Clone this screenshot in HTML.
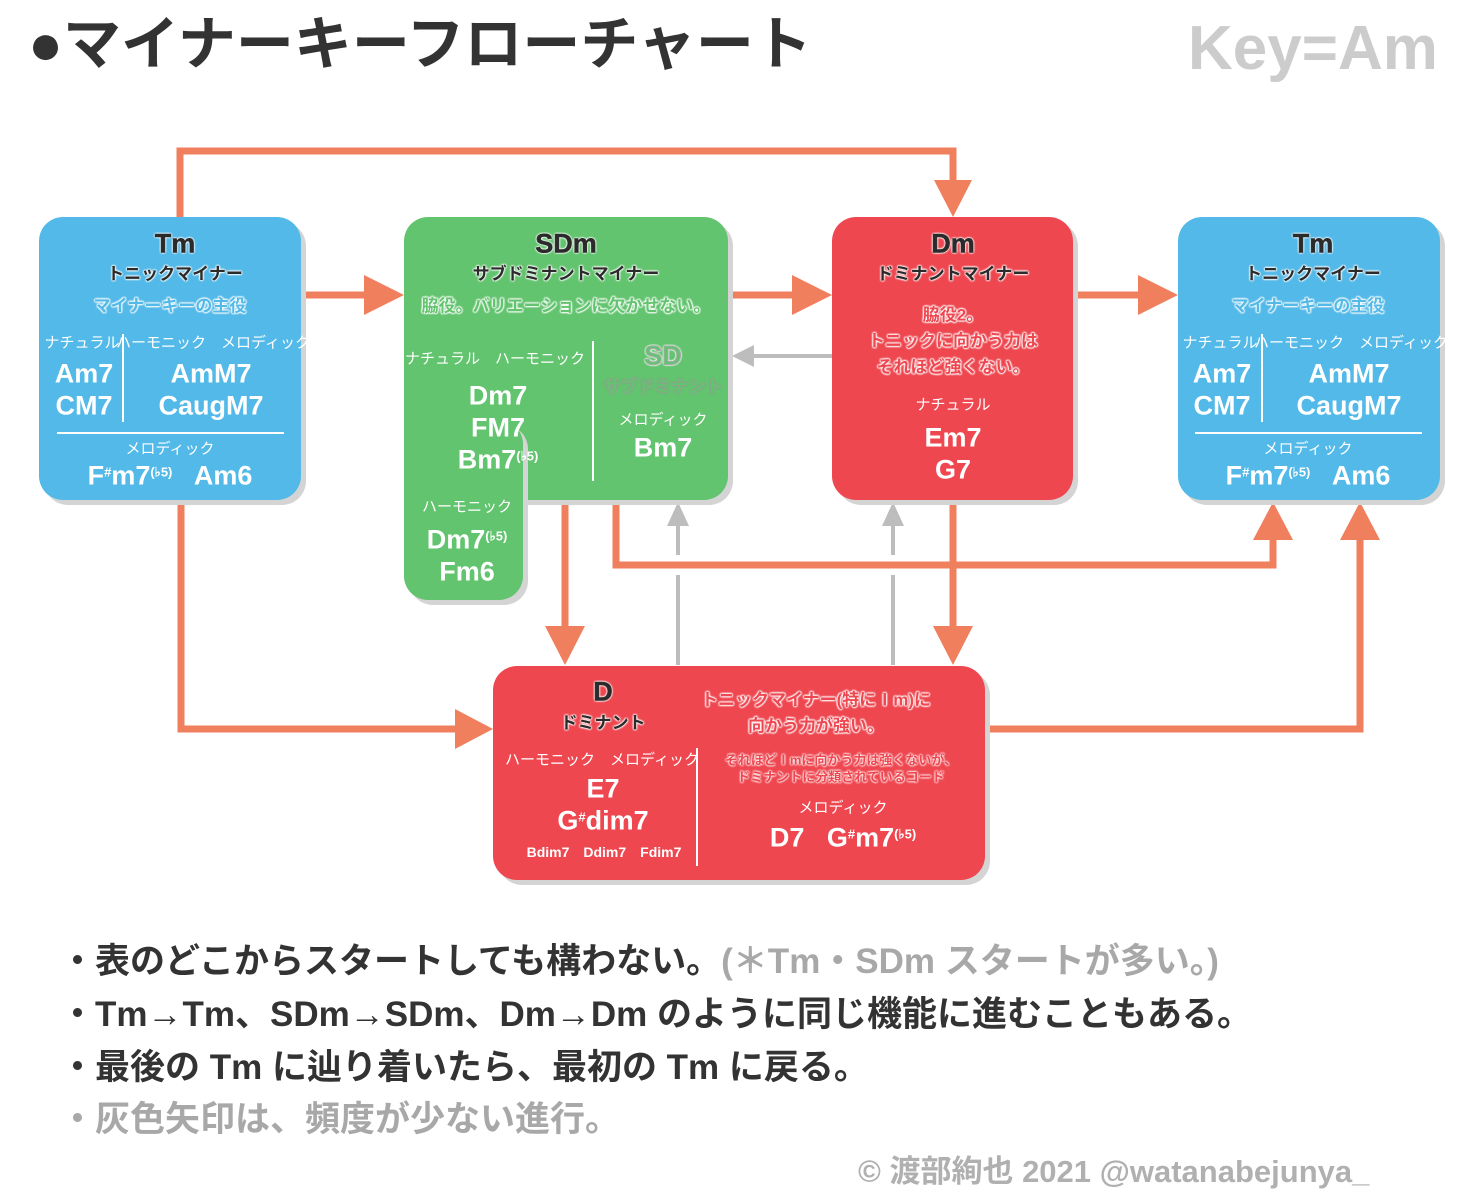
<!DOCTYPE html>
<html><head><meta charset="utf-8"><style>
body{margin:0;width:1478px;height:1202px;background:#fff;position:relative;overflow:hidden;font-family:"Liberation Sans","Noto Sans CJK JP",sans-serif;}
.b{position:absolute;border-radius:24px;box-shadow:5px 5px 0 #d4d4d4;}
.t{position:absolute;transform:translate(-50%,-50%);white-space:nowrap;color:#fff;font-weight:bold;line-height:1;}
.h{color:#2b2b2b;font-size:27px;text-shadow:0 0 2px #fff,0 0 2px #fff,0 0 2px #fff,0 0 2px #fff;-webkit-text-stroke:0.5px #2b2b2b;}
.k{color:#2b2b2b;font-size:17px;text-shadow:0 0 2px #fff,0 0 2px #fff,0 0 2px #fff,0 0 2px #fff;}
.s{font-size:15px;font-weight:normal;}
.c{font-family:"Liberation Sans Narrow","Liberation Sans",sans-serif;font-size:27px;}
.sup{font-size:13px;vertical-align:8px;}
.o{font-size:17px;text-shadow:0 0 2px #fff,0 0 2px #fff,0 0 2px #fff,0 0 2px #fff,0 0 2px #fff;}
.line{position:absolute;background:#fff;}
.bul{position:absolute;left:60px;font-size:35px;font-weight:bold;color:#333;white-space:nowrap;line-height:1;}
</style></head><body>
<div style="position:absolute;left:28px;top:16px;font-size:58px;font-weight:bold;color:#333;line-height:1;white-space:nowrap;">●マイナーキーフローチャート</div>
<div style="position:absolute;left:1188px;top:18px;font-size:62px;font-weight:bold;color:#ccc;line-height:1;">Key=Am</div>

<svg width="1478" height="1202" style="position:absolute;left:0;top:0" fill="none">
<g stroke="#f07f5e" stroke-width="7">
<polyline points="180,217 180,151 953,151 953,185"/>
<line x1="301" y1="295" x2="372" y2="295"/><line x1="728" y1="295" x2="800" y2="295"/><line x1="1073" y1="295" x2="1146" y2="295"/>
<polyline points="181,500 181,729 462,729"/>
<line x1="565" y1="500" x2="565" y2="634"/>
<polyline points="616,500 616,565 1273,565 1273,532"/>
<line x1="953" y1="500" x2="953" y2="634"/>
<polyline points="985,729 1360,729 1360,532"/>
</g>
<g fill="#f07f5e">
<polygon points="934,180 972,180 953,217"/>
<polygon points="364,275 404,295 364,315"/><polygon points="792,275 832,295 792,315"/><polygon points="1138,275 1178,295 1138,315"/>
<polygon points="455,709 493,729 455,749"/>
<polygon points="545,626 585,626 565,665"/><polygon points="933,626 973,626 953,665"/>
<polygon points="1253,540 1293,540 1273,502"/><polygon points="1340,540 1380,540 1360,502"/>
</g>
<g stroke="#bdbdbd" stroke-width="4">
<line x1="832" y1="356" x2="748" y2="356"/>
<line x1="678" y1="665" x2="678" y2="575"/><line x1="678" y1="555" x2="678" y2="520"/>
<line x1="893" y1="665" x2="893" y2="575"/><line x1="893" y1="555" x2="893" y2="520"/>
</g>
<g fill="#bdbdbd">
<polygon points="754,345 732,356 754,367"/>
<polygon points="667,526 678,502 689,526"/><polygon points="882,526 893,502 904,526"/>
</g>
</svg>

<!-- Tm left -->
<div class="b" style="left:39px;top:217px;width:262px;height:283px;background:#52b9e8"></div>
<div class="t h" style="left:175px;top:244px">Tm</div>
<div class="t k" style="left:175px;top:274px">トニックマイナー</div>
<div class="t o" style="left:170px;top:306px;color:#52b9e8">マイナーキーの主役</div>
<div class="t s" style="left:82px;top:343px">ナチュラル</div>
<div class="t s" style="left:213px;top:343px">ハーモニック　メロディック</div>
<div class="line" style="left:122px;top:334px;width:2px;height:88px"></div>
<div class="t c" style="left:84px;top:374px">Am7</div><div class="t c" style="left:84px;top:406px">CM7</div>
<div class="t c" style="left:211px;top:374px">AmM7</div><div class="t c" style="left:211px;top:406px">CaugM7</div>
<div class="line" style="left:57px;top:432px;width:227px;height:2px"></div>
<div class="t s" style="left:170px;top:449px">メロディック</div>
<div class="t c" style="left:170px;top:476px">F<span class="sup">#</span>m7<span class="sup">(♭5)</span>&nbsp;&nbsp; Am6</div>

<!-- SDm -->
<div class="b" style="left:404px;top:217px;width:324px;height:283px;background:#62c46e"></div>
<div class="b" style="left:404px;top:420px;width:119px;height:180px;background:#62c46e"></div>
<div class="t h" style="left:566px;top:244px">SDm</div>
<div class="t k" style="left:566px;top:274px">サブドミナントマイナー</div>
<div class="t o" style="left:566px;top:306px;color:#62c46e">脇役。バリエーションに欠かせない。</div>
<div class="t s" style="left:495px;top:359px">ナチュラル　ハーモニック</div>
<div class="line" style="left:592px;top:341px;width:2px;height:140px"></div>
<div class="t c" style="left:498px;top:396px">Dm7</div><div class="t c" style="left:498px;top:428px">FM7</div>
<div class="t c" style="left:498px;top:460px">Bm7<span class="sup">(♭5)</span></div>
<div class="t h" style="left:663px;top:356px;color:#62c46e;-webkit-text-stroke:1px #aaa">SD</div>
<div class="t o" style="left:663px;top:387px;color:#62c46e;text-shadow:0 0 2px #999,0 0 2px #999,0 0 2px #999">サブドミナント</div>
<div class="t s" style="left:663px;top:420px">メロディック</div>
<div class="t c" style="left:663px;top:448px">Bm7</div>
<div class="t s" style="left:467px;top:507px">ハーモニック</div>
<div class="t c" style="left:467px;top:540px">Dm7<span class="sup">(♭5)</span></div>
<div class="t c" style="left:467px;top:572px">Fm6</div>

<!-- Dm -->
<div class="b" style="left:832px;top:217px;width:241px;height:283px;background:#ef4750"></div>
<div class="t h" style="left:953px;top:244px">Dm</div>
<div class="t k" style="left:953px;top:274px">ドミナントマイナー</div>
<div class="t o" style="left:953px;top:315px;color:#ef4750">脇役2。</div>
<div class="t o" style="left:953px;top:341px;color:#ef4750">トニックに向かう力は</div>
<div class="t o" style="left:953px;top:367px;color:#ef4750">それほど強くない。</div>
<div class="t s" style="left:953px;top:405px">ナチュラル</div>
<div class="t c" style="left:953px;top:438px">Em7</div><div class="t c" style="left:953px;top:470px">G7</div>

<!-- Tm right -->
<div class="b" style="left:1178px;top:217px;width:262px;height:283px;background:#52b9e8"></div>
<div class="t h" style="left:1313px;top:244px">Tm</div>
<div class="t k" style="left:1313px;top:274px">トニックマイナー</div>
<div class="t o" style="left:1308px;top:306px;color:#52b9e8">マイナーキーの主役</div>
<div class="t s" style="left:1220px;top:343px">ナチュラル</div>
<div class="t s" style="left:1351px;top:343px">ハーモニック　メロディック</div>
<div class="line" style="left:1261px;top:334px;width:2px;height:88px"></div>
<div class="t c" style="left:1222px;top:374px">Am7</div><div class="t c" style="left:1222px;top:406px">CM7</div>
<div class="t c" style="left:1349px;top:374px">AmM7</div><div class="t c" style="left:1349px;top:406px">CaugM7</div>
<div class="line" style="left:1195px;top:432px;width:227px;height:2px"></div>
<div class="t s" style="left:1308px;top:449px">メロディック</div>
<div class="t c" style="left:1308px;top:476px">F<span class="sup">#</span>m7<span class="sup">(♭5)</span>&nbsp;&nbsp; Am6</div>

<!-- D -->
<div class="b" style="left:493px;top:666px;width:492px;height:214px;background:#ef4750"></div>
<div class="t h" style="left:603px;top:692px">D</div>
<div class="t k" style="left:603px;top:723px">ドミナント</div>
<div class="t s" style="left:602px;top:760px">ハーモニック　メロディック</div>
<div class="t c" style="left:603px;top:789px;font-family:'Liberation Sans',sans-serif">E7</div>
<div class="t c" style="left:603px;top:821px;font-family:'Liberation Sans',sans-serif">G<span class="sup">#</span>dim7</div>
<div class="t" style="left:604px;top:852px;font-size:14px">Bdim7　Ddim7　Fdim7</div>
<div class="line" style="left:696px;top:748px;width:2px;height:118px"></div>
<div class="t o" style="left:816px;top:700px;color:#ef4750">トニックマイナー(特にⅠm)に</div>
<div class="t o" style="left:816px;top:726px;color:#ef4750">向かう力が強い。</div>
<div class="t" style="left:841px;top:760px;font-size:13px;color:#ef4750;text-shadow:0 0 2px #fff,0 0 2px #fff,0 0 2px #fff">それほどⅠmに向かう力は強くないが、</div>
<div class="t" style="left:841px;top:777px;font-size:13px;color:#ef4750;text-shadow:0 0 2px #fff,0 0 2px #fff,0 0 2px #fff">ドミナントに分類されているコード</div>
<div class="t s" style="left:843px;top:808px">メロディック</div>
<div class="t c" style="left:843px;top:838px;font-family:'Liberation Sans',sans-serif">D7&nbsp;&nbsp; G<span class="sup">#</span>m7<span class="sup">(♭5)</span></div>

<div class="bul" style="top:944px">・表のどこからスタートしても構わない。<span style="color:#a8a8a8">(＊Tm・SDm スタートが多い。)</span></div>
<div class="bul" style="top:997px">・Tm→Tm、SDm→SDm、Dm→Dm のように同じ機能に進むこともある。</div>
<div class="bul" style="top:1050px">・最後の Tm に辿り着いたら、最初の Tm に戻る。</div>
<div class="bul" style="top:1102px;color:#a8a8a8">・灰色矢印は、頻度が少ない進行。</div>
<div style="position:absolute;left:858px;top:1156px;font-size:31px;font-weight:bold;color:#b0b0b0;white-space:nowrap;line-height:1">© 渡部絢也 2021 @watanabejunya_</div>
</body></html>
